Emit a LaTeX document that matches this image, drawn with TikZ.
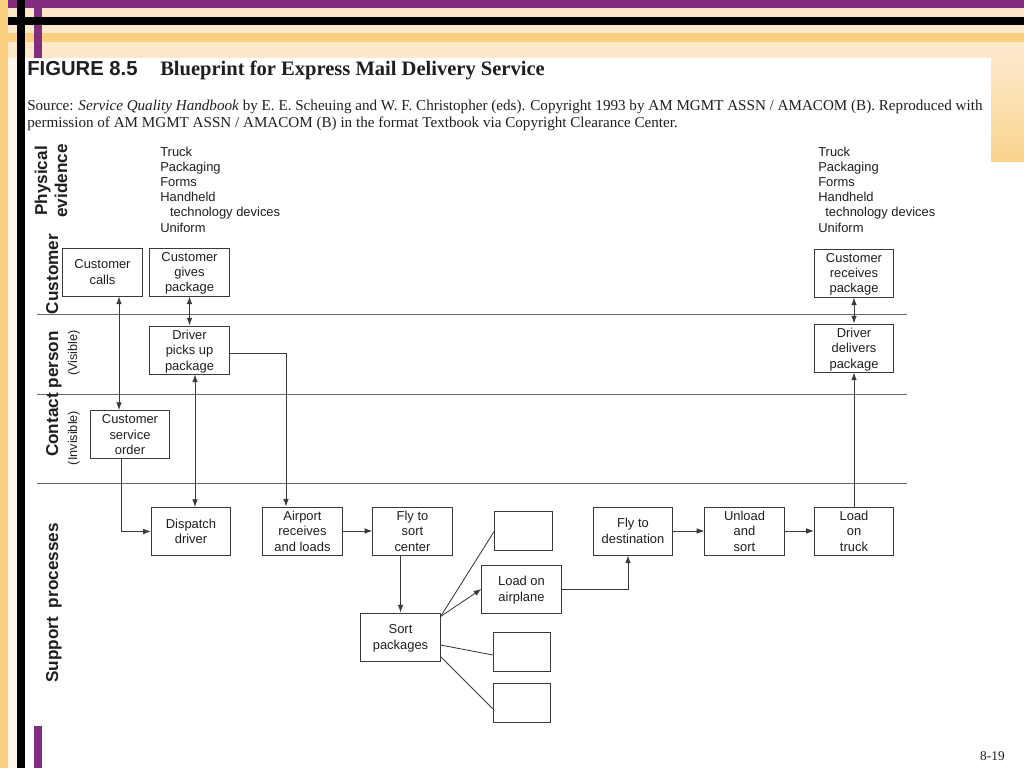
\documentclass[tikz,border=0pt]{standalone}
\usepackage{fontspec}
\setmainfont{Liberation Serif}
\setsansfont{Liberation Sans}
\usetikzlibrary{arrows.meta,calc}
\definecolor{slidepurple}{HTML}{832D7E}
\definecolor{slideorange}{HTML}{F9CF80}
\definecolor{slidecream}{HTML}{FDE8C9}
\definecolor{inkgray}{HTML}{3A3A3A}

\begin{document}
\begin{tikzpicture}[x=0.025cm, y=-0.025cm,
  >={Latex[length=5.5pt,width=4pt]},
  every node/.style={inner sep=0pt, text=black!88},
  box/.style={draw=inkgray, line width=0.7pt, minimum width=1.98cm, minimum height=1.2cm,
    text depth=0pt, align=center, font=\sffamily\fontsize{9.2}{11}\selectfont},
  blank/.style={draw=inkgray, line width=0.7pt, minimum width=1.43cm, minimum height=0.97cm},
  link/.style={draw=inkgray, line width=0.6pt},
  lane/.style={draw=black!60, line width=0.6pt},
  lanelabel/.style={rotate=90, anchor=base, font=\sffamily\bfseries\fontsize{12.2}{14.2}\selectfont},
  sublabel/.style={rotate=90, anchor=base, font=\sffamily\fontsize{9}{10}\selectfont},
  propslist/.style={anchor=north west, align=left, font=\sffamily\fontsize{9.2}{10.8}\selectfont}]

  \useasboundingbox (0,0) rectangle (1024,768);

  % slide frame
  \fill[white] (0,0) rectangle (1024,768);
  \fill[slidecream] (8,0) rectangle (1024,58);
  \fill[slidecream!40] (8,58) rectangle (17,768);
  \shade[top color=slidecream, bottom color=slideorange!90] (991,58) rectangle (1024,162);
  \fill[slideorange] (0,0) rectangle (8,768);
  \fill[slideorange] (8,33) rectangle (1024,42);
  \fill[slidepurple] (8,0) rectangle (1024,8);
  \fill[slidepurple] (34,0) rectangle (42,58);
  \fill[slidepurple] (34,726) rectangle (42,768);
  \fill[black] (8,17) rectangle (1024,25);
  \fill[black] (17,0) rectangle (25,768);

  % caption
  \node[anchor=base west, font=\sffamily\bfseries\fontsize{14.4}{16}\selectfont] (fignum) at (27,76) {FIGURE 8.5};
  \node[anchor=base west, font=\rmfamily\bfseries\fontsize{14.6}{16}\selectfont] (figtitle) at (160,76)
    {Blueprint for Express Mail Delivery Service};
  \node[anchor=north west, align=left, font=\rmfamily\fontsize{10.75}{12}\selectfont] (source) at (27,99.5)
    {Source: \textit{Service Quality Handbook} by E. E. Scheuing and W. F. Christopher (eds). Copyright 1993 by AM MGMT ASSN / AMACOM (B). Reproduced with\\
     permission of AM MGMT ASSN / AMACOM (B) in the format Textbook via Copyright Clearance Center.};

  % lanes
  \foreach \y in {314,394,483}
    \draw[lane] (37,\y) -- (907,\y);

  \node[lanelabel, align=center, anchor=center] (physlbl) at (51,181) {Physical\\evidence};
  \node[lanelabel] (custlbl) at (58,274) {Customer};
  \node[lanelabel] (contlbl) at (58,394) {Contact person};
  \node[sublabel] (vislbl) at (77,353) {(Visible)};
  \node[sublabel] (invislbl) at (77,438) {(Invisible)};
  \node[lanelabel] (supplbl) at (58,603) {Support\hspace{3pt} processes};

  \node[propslist] (propsleft) at (160,146.5)
    {Truck\\Packaging\\Forms\\Handheld\\\hspace*{7pt}technology devices\\Uniform};
  \node[propslist] (propsright) at (818,146.5)
    {Truck\\Packaging\\Forms\\Handheld\\\hspace*{5pt}technology devices\\Uniform};

  % steps
  \node[box] (calls) at (102.5,272) {Customer\\calls};
  \node[box] (gives) at (189.5,272) {Customer\\gives\\package};
  \node[box] (receives) at (854,273) {Customer\\receives\\package};
  \node[box] (picks) at (189.5,350) {Driver\\picks up\\package};
  \node[box] (delivers) at (854,348) {Driver\\delivers\\package};
  \node[box] (order) at (130,434.5) {Customer\\service\\order};
  \node[box] (dispatch) at (191,531.5) {Dispatch\\driver};
  \node[box] (airport) at (302.5,531) {Airport\\receives\\and loads};
  \node[box] (flysort) at (412.5,531) {Fly to\\sort\\center};
  \node[blank] (blanka) at (523.5,531) {};
  \node[box] (loadair) at (521.5,589) {Load on\\airplane};
  \node[box] (flydest) at (633,531) {Fly to\\destination};
  \node[box] (unload) at (744.5,531) {Unload\\and\\sort};
  \node[box] (loadtruck) at (854,531) {Load\\on\\truck};
  \node[box] (sort) at (400.5,637) {Sort\\packages};
  \node[blank] (blankb) at (522,652) {};
  \node[blank] (blankc) at (522,703) {};

  % flow
  \coordinate (callsx) at ($(calls.south)+(16.5,0)$);
  \coordinate (picksx) at ($(picks.south)+(5.5,0)$);
  \coordinate (fork) at ($(sort.north east)+(0,4)$);

  \draw[link,<->] (callsx) -- (callsx |- order.north);
  \draw[link,<->] (gives) -- (picks);
  \draw[link,<->] (picksx) -- (picksx |- dispatch.north);
  \draw[link,->] ($(picks.east)+(0,3)$) -| ($(airport.north)+(-16.5,0)$);
  \draw[link,->] ($(order.south)+(-9,0)$) |- (dispatch.west);
  \draw[link,->] (airport) -- (flysort);
  \draw[link,->] (flysort.south -| sort.north) -- (sort.north);
  \draw[link] (fork) -- (blanka.west);
  \draw[link,->] (fork) -- (loadair.west);
  \draw[link] ($(sort.east)+(0,8)$) -- ($(blankb.west)+(0,3)$);
  \draw[link] ($(sort.south east)+(0,-5)$) -- ($(blankc.west)+(0,6)$);
  \draw[link,->] (loadair.east) -| ($(flydest.south)+(-5,0)$);
  \draw[link,->] (flydest) -- (unload);
  \draw[link,->] (unload) -- (loadtruck);
  \draw[link,->] (loadtruck.north) -- (loadtruck.north |- delivers.south);
  \draw[link,<->] (receives.south) -- (receives.south |- delivers.north);

  \node[anchor=base east, font=\rmfamily\fontsize{9.5}{11}\selectfont] (pagenum) at (1005,760) {8-19};

\end{tikzpicture}
\end{document}
